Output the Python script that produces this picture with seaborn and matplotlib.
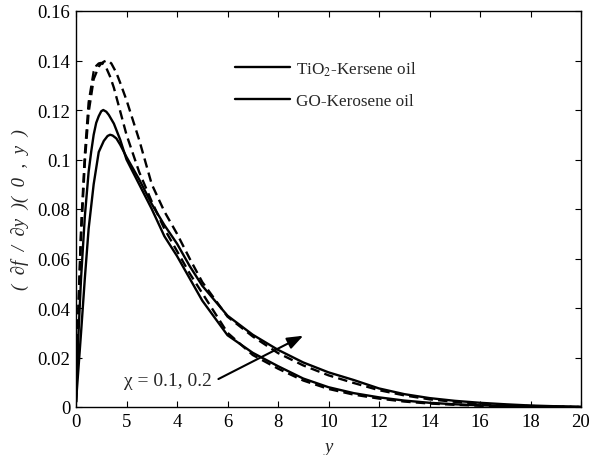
import numpy as np
import pandas as pd
import matplotlib
matplotlib.use("Agg")
import matplotlib.pyplot as plt
from matplotlib.lines import Line2D
import seaborn as sns

# ---- data ----
x_a = [0, 0.1, 0.2, 0.35, 0.5, 0.6, 0.7, 0.8, 0.9, 1.0, 1.08, 1.2, 1.3, 1.5, 1.75, 2, 2.5, 3, 3.5, 4, 4.5, 5, 6, 7, 8, 9, 10, 11, 12, 13, 14, 15, 16, 17, 18, 19, 20]
tio2_chi1 = [0.002, 0.030, 0.052, 0.077, 0.095, 0.103, 0.110, 0.1148, 0.1175, 0.1195, 0.120, 0.1193, 0.118, 0.1145, 0.108, 0.100, 0.090, 0.080, 0.069, 0.061, 0.052, 0.043, 0.029, 0.0219, 0.0165, 0.0115, 0.0080, 0.0056, 0.0039, 0.0026, 0.0017, 0.0011, 0.0007, 0.0004, 0.0002, 0.0001, 0.0]

x_c = [0, 0.1, 0.2, 0.35, 0.5, 0.7, 0.9, 1.1, 1.25, 1.35, 1.45, 1.6, 1.75, 2, 2.5, 3, 3.5, 4, 4.5, 5, 6, 7, 8, 9, 10, 11, 12, 13, 14, 15, 16, 17, 18, 19, 20]
tio2_chi2 = [0.002, 0.016, 0.030, 0.052, 0.072, 0.090, 0.103, 0.1075, 0.1095, 0.110, 0.1097, 0.1085, 0.106, 0.101, 0.092, 0.082, 0.0735, 0.066, 0.057, 0.049, 0.0369, 0.0292, 0.0231, 0.0180, 0.0140, 0.0109, 0.0075, 0.0052, 0.0036, 0.0025, 0.0017, 0.0011, 0.0006, 0.0003, 0.0]

x_b = [0, 0.1, 0.2, 0.35, 0.5, 0.7, 0.8, 0.9, 0.98, 1.05, 1.2, 1.35, 1.5, 1.75, 2, 2.5, 3, 3.5, 4, 4.5, 5, 6, 7, 8, 9, 10, 11, 12, 13, 14, 15, 16, 17, 18, 19, 20]
go_chi1 = [0.002, 0.042, 0.072, 0.102, 0.123, 0.1355, 0.1378, 0.1388, 0.139, 0.1388, 0.137, 0.1335, 0.129, 0.1195, 0.110, 0.095, 0.083, 0.072, 0.063, 0.054, 0.046, 0.030, 0.021, 0.0155, 0.0107, 0.0073, 0.0050, 0.0034, 0.0022, 0.0014, 0.0009, 0.0005, 0.0003, 0.0002, 0.0001, 0.0]

x_d = [0, 0.1, 0.2, 0.35, 0.5, 0.7, 0.9, 1.0, 1.1, 1.21, 1.3, 1.4, 1.6, 1.75, 2, 2.5, 3, 3.5, 4, 4.5, 5, 6, 7, 8, 9, 10, 11, 12, 13, 14, 15, 16, 17, 18, 19, 20]
go_chi2 = [0.002, 0.040, 0.069, 0.099, 0.119, 0.1325, 0.1375, 0.1388, 0.1395, 0.140, 0.1397, 0.1388, 0.135, 0.131, 0.124, 0.108, 0.090, 0.079, 0.070, 0.060, 0.0505, 0.0365, 0.0285, 0.0218, 0.0168, 0.0128, 0.0097, 0.0068, 0.0047, 0.0031, 0.0021, 0.0013, 0.0008, 0.0004, 0.0002, 0.0]

xticks = [0, 2, 4, 6, 8, 10, 12, 14, 16, 18, 20]
xtick_labels = ["0", "5", "4", "6", "8", "10", "12", "14", "16", "18", "20"]
yticks = [0, 0.02, 0.04, 0.06, 0.08, 0.1, 0.12, 0.14, 0.16]
ytick_labels = ["0", "0.02", "0.04", "0.06", "0.08", "0.1", "0.12", "0.14", "0.16"]
legend_labels = ["TiO$_2$-Kersene oil", "GO-Kerosene oil"]

sns.set_theme(style="white")
plt.rcParams["font.family"] = ["Liberation Serif", "DejaVu Serif"]
plt.rcParams["mathtext.fontset"] = "stix"

FS = 13.5
fig = plt.figure(figsize=(5.97, 4.56), dpi=100)
ax = fig.add_axes([76/597, 1-408/456, (581-76)/597, (408-12)/456])

curves = [(x_a, tio2_chi1, "-"), (x_c, tio2_chi2, "-"), (x_b, go_chi1, "--"), (x_d, go_chi2, "--")]
for xs, ys, ls in curves:
    df = pd.DataFrame({"x": xs, "y": ys})
    sns.lineplot(data=df, x="x", y="y", ax=ax, color="black", linewidth=1.7,
                 linestyle=ls, legend=False, estimator=None)
for l in ax.lines:
    if l.get_linestyle() == "--":
        l.set_dashes([4, 2.2])

ax.set_xlim(0, 20)
ax.set_ylim(0, 0.16)
ax.set_xticks(xticks)
ax.set_xticklabels(xtick_labels, fontsize=FS)
ax.set_yticks(yticks)
ax.set_yticklabels(ytick_labels, fontsize=FS)
ax.tick_params(direction="in", length=4, width=0.8, top=True, right=True,
               bottom=True, left=True, colors="black", pad=4)
for s in ax.spines.values():
    s.set_color("black")
    s.set_linewidth(1.0)
    s.set_visible(True)

ax.set_xlabel("y", fontsize=FS, fontstyle="italic", labelpad=6)
ax.set_ylabel("(  \u2202f  /  \u2202y  )(  0  ,  y  )", fontsize=FS, fontstyle="italic", labelpad=6)

handles = [Line2D([0], [0], color="black", lw=1.7, ls="-"),
           Line2D([0], [0], color="black", lw=1.7, ls="-")]
ax.legend(handles, legend_labels, frameon=False, fontsize=12.3, loc="upper left",
          bbox_to_anchor=(0.301, 0.895), handlelength=3.2, handletextpad=0.4,
          labelspacing=0.9, borderaxespad=0)

ax.annotate("", xy=(9.0, 0.0288), xytext=(5.64, 0.0113),
            arrowprops=dict(arrowstyle="-|>,head_length=0.8,head_width=0.3",
                            color="black", lw=1.5, shrinkA=0, shrinkB=0))
ax.text(1.9, 0.0106, "\u03c7 = 0.1, 0.2", fontsize=14, va="center", ha="left")

fig.savefig("out.png", dpi=100)
